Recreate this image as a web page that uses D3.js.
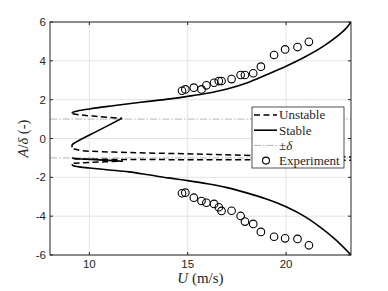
<!DOCTYPE html>
<html>
<head>
<meta charset="utf-8">
<title>A/delta vs U</title>
<style>
  body { margin: 0; background: #fff; }
  text { fill: #262626; }
</style>
</head>
<body>
<svg width="388" height="291"></svg>
<script src="https://d3js.org/d3.v7.min.js"></script>
<script>
// branches of the continuation diagram, [U, A/delta]
var stableUpper = [[23.3, 6.0], [23, 5.62], [22, 4.82], [21, 4.22], [20, 3.72], [19, 3.28], [18, 2.86], [17, 2.55],
    [16, 2.33], [15, 2.17], [14, 2.03], [13, 1.91], [12, 1.79], [11, 1.66], [10, 1.52], [9.4, 1.42], [9.15, 1.35], [9.12, 1.3]];
var unstableUpper = [[9.15, 1.27], [9.5, 1.22], [10.5, 1.13], [11.66, 1.04]];
var stableMiddle = [[11.66, 1.04], [10.5, 0.43], [9.3, -0.2], [9.12, -0.34], [9.13, -0.45]];
var unstableMiddle = [[9.2, -0.53], [9.6, -0.62], [12, -0.72], [15, -0.79], [18.2, -0.87], [23.3, -0.95]];
var stableLowerB = [[11.7, -1.17], [10.5, -1.1], [9.3, -1.03], [9.12, -1.0]];
var unstableLowerA = [[9.2, -1.28], [10, -1.23], [11.7, -1.17]];
var unstableLowerB = [[9.2, -1.04], [9.6, -1.06], [12, -1.08], [18, -1.1], [23.3, -1.12]];
var stableLower = [[23.3, -6.0], [22.5, -5.2], [21.8, -4.62], [21, -4.05], [20, -3.52], [19, -3.12], [18, -2.8], [17, -2.53],
    [16, -2.33], [15, -2.17], [14, -2.03], [13, -1.87], [12, -1.72], [11, -1.62], [10, -1.52], [9.4, -1.45], [9.15, -1.38], [9.12, -1.33]];

// experiment
var expU = [14.71, 14.88, 15.31, 15.70, 15.95, 16.34, 16.58, 16.72, 17.23, 17.69, 17.91, 18.33, 18.72, 19.39, 19.95, 20.58, 21.16];
var expUpper = [2.46, 2.53, 2.62, 2.53, 2.74, 2.87, 2.96, 2.96, 3.06, 3.27, 3.27, 3.36, 3.70, 4.30, 4.59, 4.71, 4.98];
var expLower = [-2.82, -2.79, -3.05, -3.22, -3.31, -3.37, -3.54, -3.73, -3.72, -3.99, -4.28, -4.40, -4.81, -5.06, -5.14, -5.17, -5.50];

var xTicks = [10, 15, 20];
var yTicks = [-6, -4, -2, 0, 2, 4, 6];
var deltaLevels = [1, -1];
var legendLabels = ["Unstable", "Stable", "±δ", "Experiment"];

var svg = d3.select("svg");
var L = 50, R = 351, T = 22, B = 255;
var x = d3.scaleLinear().domain([8, 23.3]).range([L, R]);
var y = d3.scaleLinear().domain([-6, 6]).range([B, T]);

svg.append("defs").append("clipPath").attr("id", "clip")
    .append("rect").attr("x", L).attr("y", T).attr("width", R - L).attr("height", B - T);

// grid
svg.append("g").selectAll("line").data(xTicks).join("line")
    .attr("x1", d => x(d)).attr("x2", d => x(d)).attr("y1", T).attr("y2", B)
    .attr("stroke", "#e3e3e3").attr("stroke-width", 1);
svg.append("g").selectAll("line").data(yTicks).join("line")
    .attr("y1", d => y(d)).attr("y2", d => y(d)).attr("x1", L).attr("x2", R)
    .attr("stroke", "#e3e3e3").attr("stroke-width", 1);

var plot = svg.append("g").attr("clip-path", "url(#clip)");

// +-delta
plot.selectAll(".delta").data(deltaLevels).join("line")
    .attr("x1", L).attr("x2", R).attr("y1", d => y(d)).attr("y2", d => y(d))
    .attr("stroke", "#b5b5b5").attr("stroke-width", 1).attr("stroke-dasharray", "7,2,1.5,2");

var line = d3.line().x(d => x(d[0])).y(d => y(d[1])).curve(d3.curveCatmullRom);

[stableUpper, stableMiddle, stableLowerB, stableLower].forEach(function (b) {
    plot.append("path").attr("d", line(b)).attr("fill", "none")
        .attr("stroke", "#000").attr("stroke-width", 1.6);
});
[unstableUpper, unstableMiddle, unstableLowerA, unstableLowerB].forEach(function (b) {
    plot.append("path").attr("d", line(b)).attr("fill", "none")
        .attr("stroke", "#000").attr("stroke-width", 1.5).attr("stroke-dasharray", "6,3.5");
});

var pts = expU.map((u, i) => [u, expUpper[i]]).concat(expU.map((u, i) => [u, expLower[i]]));
plot.selectAll("circle").data(pts).join("circle")
    .attr("cx", d => x(d[0])).attr("cy", d => y(d[1])).attr("r", 3.8)
    .attr("fill", "none").attr("stroke", "#000").attr("stroke-width", 1.1);

// box + inward ticks
svg.append("rect").attr("x", L).attr("y", T).attr("width", R - L).attr("height", B - T)
    .attr("fill", "none").attr("stroke", "#262626").attr("stroke-width", 1);
var tk = svg.append("g").attr("stroke", "#262626").attr("stroke-width", 1);
xTicks.forEach(function (d) {
    tk.append("line").attr("x1", x(d)).attr("x2", x(d)).attr("y1", B).attr("y2", B - 3);
    tk.append("line").attr("x1", x(d)).attr("x2", x(d)).attr("y1", T).attr("y2", T + 3);
});
yTicks.forEach(function (d) {
    tk.append("line").attr("y1", y(d)).attr("y2", y(d)).attr("x1", L).attr("x2", L + 3);
    tk.append("line").attr("y1", y(d)).attr("y2", y(d)).attr("x1", R).attr("x2", R - 3);
});

svg.append("g").selectAll("text").data(xTicks).join("text")
    .attr("x", d => x(d)).attr("y", B + 13).attr("text-anchor", "middle")
    .attr("font-family", "Liberation Sans, Arial, sans-serif").attr("font-size", "11.5px")
    .text(d => d);
svg.append("g").selectAll("text").data(yTicks).join("text")
    .attr("x", L - 4).attr("y", d => y(d) + 4).attr("text-anchor", "end")
    .attr("font-family", "Liberation Sans, Arial, sans-serif").attr("font-size", "11.5px")
    .text(d => d);

// axis labels
var xl = svg.append("text").attr("x", (L + R) / 2).attr("y", 283).attr("text-anchor", "middle")
    .attr("font-family", "Liberation Serif, serif").attr("font-size", "15px");
xl.append("tspan").attr("font-style", "italic").text("U");
xl.append("tspan").text(" (m/s)");

var yl = svg.append("text").attr("transform", "translate(28," + ((T + B) / 2) + ") rotate(-90)")
    .attr("text-anchor", "middle").attr("font-family", "Liberation Serif, serif").attr("font-size", "14.5px");
yl.append("tspan").attr("font-style", "italic").text("A");
yl.append("tspan").text("/");
yl.append("tspan").attr("font-style", "italic").text("δ");
yl.append("tspan").text(" (-)");

// legend
var lg = svg.append("g").attr("transform", "translate(252,107)");
lg.append("rect").attr("width", 92).attr("height", 61).attr("fill", "#fff")
    .attr("stroke", "#262626").attr("stroke-width", 0.8);
legendLabels.forEach(function (lab, i) {
    var yy = 8 + i * 15.2;
    if (i === 0) lg.append("line").attr("x1", 2).attr("x2", 25).attr("y1", yy).attr("y2", yy)
        .attr("stroke", "#000").attr("stroke-width", 1.5).attr("stroke-dasharray", "6,3.5");
    if (i === 1) lg.append("line").attr("x1", 2).attr("x2", 25).attr("y1", yy).attr("y2", yy)
        .attr("stroke", "#000").attr("stroke-width", 1.6);
    if (i === 2) lg.append("line").attr("x1", 2).attr("x2", 25).attr("y1", yy).attr("y2", yy)
        .attr("stroke", "#b5b5b5").attr("stroke-width", 1).attr("stroke-dasharray", "7,2,1.5,2");
    if (i === 3) lg.append("circle").attr("cx", 14).attr("cy", yy).attr("r", 3.5)
        .attr("fill", "none").attr("stroke", "#000").attr("stroke-width", 1.1);
    var t = lg.append("text").attr("x", 27).attr("y", yy + 4.3)
        .attr("font-family", "Liberation Serif, serif").attr("font-size", "13px");
    if (i === 2) {
        t.append("tspan").text("±");
        t.append("tspan").attr("font-style", "italic").text("δ");
    } else t.text(lab);
});
</script>
</body>
</html>
